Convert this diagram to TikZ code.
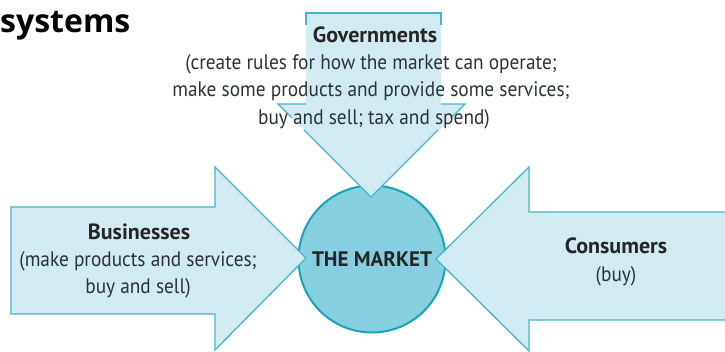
\documentclass[tikz,border=0pt]{standalone}
\usepackage{fontspec}
\setmainfont{PT Sans}
\newfontfamily\narrowfont[FakeStretch=0.92]{PT Sans}
\newfontfamily\titlefont{Open Sans}
\definecolor{arrowfill}{HTML}{D2EBF3}
\definecolor{arrowline}{HTML}{45B6CA}
\definecolor{circfill}{HTML}{85CFE0}
\definecolor{circline}{HTML}{1BA3BA}
\definecolor{ink}{HTML}{2B3238}
\tikzset{
  arrowshape/.style={fill=arrowfill,draw=arrowline,line width=1.3pt,line join=miter},
  edgeonly/.style={draw=arrowline,line width=1.3pt},
  marketdisc/.style={circle,fill=circfill,draw=circline,line width=2pt,inner sep=0pt,minimum size=147pt},
  head/.style={font=\fontsize{22}{27}\selectfont\bfseries,text=black!85,inner sep=0pt,anchor=base},
  body/.style={font=\narrowfont\fontsize{21}{27.5}\selectfont,text=ink,inner sep=0pt,align=center,anchor=base},
}
\begin{document}
\begin{tikzpicture}[x=1pt,y=-1pt]
\useasboundingbox (0,0) rectangle (725,351);
\node[marketdisc] (market) at (372,259) {};
% left arrow
\path[arrowshape] (11,207) -- (215,207) -- (215,167) -- (306,258) -- (215,350) -- (215,314) -- (11,314) -- cycle;
% right arrow
\fill[arrowfill] (725,212) -- (529,212) -- (529,167) -- (436,259) -- (529,351) -- (529,320) -- (725,320) -- cycle;
\draw[edgeonly] (725,212) -- (529,212) -- (529,167) -- (436,259) -- (529,351) -- (529,320) -- (725,320);
% top arrow
\fill[arrowfill] (306,13) -- (441,13) -- (441,104) -- (465,104) -- (371,197) -- (278,104) -- (306,104) -- cycle;
\draw[edgeonly] (306,25) -- (306,13) -- (441,13) -- (441,25);
\draw[edgeonly] (306,104) -- (278,104) -- (292,118);
\draw[edgeonly] (304,130) -- (371,197) -- (438,130);
\draw[edgeonly] (452,117) -- (465,104) -- (441,104);
\node[head] (gov) at (375,42) {Governments};
\node[body] (govtext1) at (371,69) {(create rules for how the market can operate;};
\node[body] (govtext2) at (371,96.5) {make some products and provide some services;};
\node[body] (govtext3) at (374,124) {buy and sell; tax and spend)};
\node[head] (bus) at (139,239) {Businesses};
\node[body] (bustext1) at (138,266) {(make products and services;};
\node[body] (bustext2) at (138,293) {buy and sell)};
\node[head] (con) at (616,253) {Consumers};
\node[body] (context) at (616,281) {(buy)};
\node[head,font=\fontsize{21}{27}\selectfont\bfseries] (mkt) at (372,266) {THE MARKET};
\node[font=\titlefont\fontsize{32}{32}\selectfont\bfseries,text=black,inner sep=0pt,anchor=base west] (sys) at (0,32) {systems};
\end{tikzpicture}
\end{document}
